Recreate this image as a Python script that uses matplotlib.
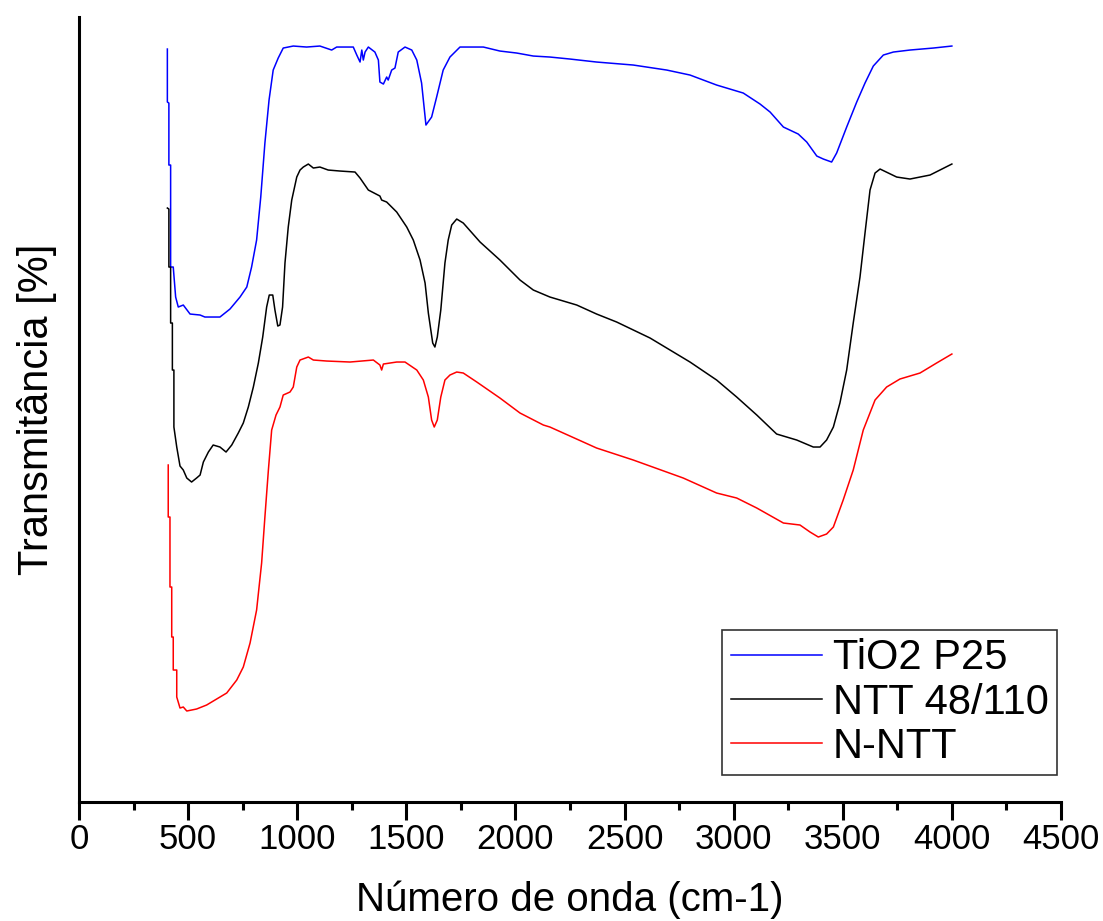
import matplotlib
matplotlib.use("Agg")
import matplotlib.pyplot as plt
from matplotlib.ticker import MultipleLocator

plt.rcParams['font.family'] = ['Liberation Sans', 'DejaVu Sans']

# FTIR spectra (wavenumber in cm-1, transmittance in arbitrary units)
tio2_wn = [405, 405, 412, 412, 420, 420, 432, 443, 455, 478, 509, 555, 577, 646, 692, 738,
           769, 791, 814, 833, 852, 871, 890, 913, 936, 982, 1043, 1104, 1158, 1181, 1257,
           1273, 1288, 1296, 1303, 1311, 1326, 1356, 1372, 1379, 1395, 1410, 1417, 1433, 1448,
           1463, 1494, 1525, 1548, 1570, 1590, 1616, 1639, 1669, 1700, 1746, 1853, 1929, 2006,
           2082, 2158, 2250, 2372, 2540, 2693, 2800, 2922, 3044, 3121, 3167, 3228, 3296, 3335,
           3381, 3411, 3449, 3472, 3518, 3564, 3602, 3640, 3686, 3732, 3808, 3915, 4000]
tio2_t = [751, 698, 697, 635, 635, 533, 533, 503, 493, 495, 486, 485, 483, 483, 491, 503,
          513, 533, 560, 603, 657, 700, 730, 742, 752, 754, 753, 754, 750, 753, 753,
          745, 738, 750, 740, 748, 753, 748, 740, 718, 716, 723, 720, 730, 732,
          748, 753, 750, 740, 717, 675, 683, 703, 730, 743, 753, 753, 749, 747,
          744, 743, 741, 738, 735, 730, 725, 715, 707, 696, 688, 673, 666, 658,
          644, 641, 638, 647, 673, 698, 717, 734, 745, 748, 750, 752, 754]

ntt_wn = [405, 412, 412, 420, 420, 428, 428, 435, 435, 448, 463, 478, 494, 516, 539, 555,
          570, 593, 615, 646, 674, 700, 730, 753, 776, 799, 822, 842, 860, 872, 888, 898,
          911, 921, 933, 944, 959, 975, 998, 1013, 1028, 1051, 1074, 1104, 1142, 1196, 1265,
          1288, 1326, 1379, 1387, 1410, 1456, 1502, 1532, 1563, 1586, 1601, 1621, 1631, 1642,
          1658, 1677, 1692, 1708, 1731, 1761, 1838, 1929, 2021, 2082, 2158, 2281, 2372, 2464,
          2617, 2800, 2922, 3014, 3106, 3197, 3289, 3365, 3396, 3426, 3457, 3487, 3518, 3548,
          3579, 3602, 3625, 3648, 3671, 3747, 3808, 3900, 4000]
ntt_t = [592, 591, 533, 533, 477, 477, 430, 430, 373, 353, 334, 330, 322, 318, 322, 325,
         338, 348, 355, 353, 348, 355, 367, 377, 393, 413, 437, 463, 493, 505, 505, 490,
         474, 475, 493, 537, 573, 600, 623, 630, 633, 636, 632, 633, 630, 629, 628,
         622, 610, 604, 600, 598, 588, 573, 560, 540, 517, 487, 457, 453, 463,
         490, 537, 560, 575, 581, 577, 558, 540, 520, 510, 503, 495, 486, 478,
         462, 438, 420, 403, 385, 366, 360, 353, 353, 360, 373, 397, 430, 477,
         523, 567, 610, 627, 631, 623, 621, 625, 636]

nntt_wn = [409, 409, 417, 417, 425, 425, 432, 432, 448, 448, 463, 478, 494, 539, 585, 631,
           677, 723, 753, 784, 814, 837, 852, 868, 883, 903, 921, 936, 967, 982, 998, 1013,
           1051, 1074, 1135, 1242, 1349, 1379, 1387, 1395, 1456, 1494, 1548, 1578, 1601, 1616,
           1628, 1642, 1658, 1677, 1700, 1731, 1761, 1823, 1929, 2021, 2128, 2158, 2311, 2372,
           2540, 2769, 2922, 3014, 3106, 3228, 3304, 3350, 3388, 3426, 3457, 3502, 3548, 3594,
           3648, 3701, 3762, 3854, 3930, 4000]
nntt_t = [335, 283, 283, 213, 213, 163, 163, 130, 130, 103, 92, 93, 89, 91, 95, 101,
          107, 120, 133, 157, 190, 237, 283, 330, 370, 385, 393, 405, 408, 413, 433, 440,
          443, 440, 439, 438, 440, 435, 430, 436, 438, 438, 430, 420, 403, 380,
          373, 380, 403, 420, 425, 428, 427, 418, 402, 387, 375, 373, 358, 352,
          340, 322, 307, 302, 292, 277, 275, 268, 263, 266, 273, 300, 330, 370,
          400, 413, 421, 427, 437, 446]

fig = plt.figure(figsize=(11.03, 9.21), dpi=100)
ax = fig.add_axes([0.0716, 0.1292, 0.8903, 0.8523])

ax.plot(tio2_wn, tio2_t, color='#0000ff', lw=1.1, label='TiO2 P25')
ax.plot(ntt_wn, ntt_t, color='black', lw=1.1, label='NTT 48/110')
ax.plot(nntt_wn, nntt_t, color='#ff0000', lw=1.1, label='N-NTT')

ax.set_xlim(0, 4500)
ax.set_ylim(-2, 783)
ax.xaxis.set_major_locator(MultipleLocator(500))
ax.xaxis.set_minor_locator(MultipleLocator(250))
ax.set_yticks([])

for s in ['top', 'right']:
    ax.spines[s].set_visible(False)
for s in ['left', 'bottom']:
    ax.spines[s].set_linewidth(2.2)

ax.tick_params(axis='x', which='major', direction='out', length=13, width=2.2,
               labelsize=25, pad=2)
ax.tick_params(axis='x', which='minor', direction='out', length=6, width=2.2)

ax.set_xlabel('Número de onda (cm-1)', fontsize=29, labelpad=18)
ax.set_ylabel('Transmitância [%]', fontsize=30, labelpad=16)

leg = ax.legend(loc='lower right', bbox_to_anchor=(1057 / 1103, (921 - 775) / 921),
                bbox_transform=fig.transFigure, borderaxespad=0, fontsize=30,
                fancybox=False, framealpha=1, edgecolor='#333333',
                handlelength=2.2, handletextpad=0.25, labelspacing=0.1, borderpad=0.2)
leg.get_frame().set_linewidth(1.2)

fig.savefig('out.png', dpi=100)
